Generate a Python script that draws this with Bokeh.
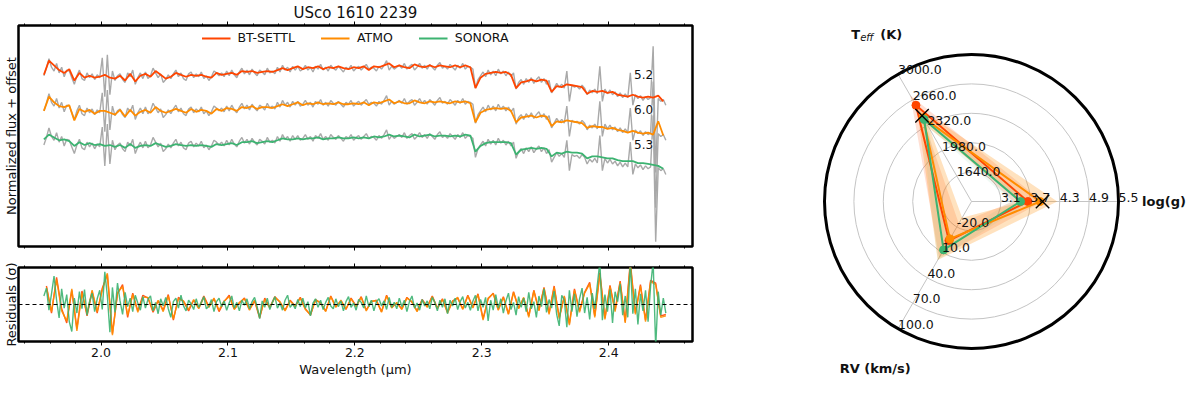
import numpy as np
from bokeh.plotting import figure
from bokeh.models import (Range1d, LinearAxis, SingleIntervalTicker, Span, Label,
                          Legend, LegendItem, CustomJSTickFormatter, NumeralTickFormatter)
from bokeh.layouts import row, column
from bokeh.core.properties import value
from bokeh.embed import file_html
from bokeh.resources import INLINE

FONT = "DejaVu Sans"

# ---------------- data ----------------
title = "USco 1610 2239"
model_names = ["BT-SETTL", "ATMO", "SONORA"]
model_colors = ["#ff4500", "#ff8c00", "#3cb371"]
offsets = [0.0, -0.37, -0.73]
reduced_chi2 = [5.2, 6.0, 5.3]

model_wave_start, model_wave_step, n_model = 1.955, 0.004, 123
data_wave_start, data_wave_step, n_data = 1.955, 0.002, 246
resid_coarse_start, resid_coarse_step, n_resid_coarse = 1.957, 0.004, 123

bt_settl = [0.98, 1.13, 1.08, 1.03, 1.00, 1.04, 0.92, 1.00, 0.95, 0.97,
            0.95, 0.96, 0.98, 0.95, 0.94, 0.97, 0.92, 0.99, 0.91, 0.97,
            0.99, 0.96, 1.02, 0.98, 0.94, 0.96, 1.00, 0.98, 0.96, 0.98,
            0.97, 0.98, 0.96, 0.95, 1.00, 0.98, 0.99, 1.00, 0.98, 1.02,
            1.01, 1.02, 1.00, 1.01, 1.02, 1.01, 1.03, 1.05, 1.03, 1.05,
            1.07, 1.04, 1.06, 1.05, 1.07, 1.04, 1.06, 1.05, 1.07, 1.05,
            1.04, 1.06, 1.05, 1.07, 1.03, 1.07, 1.06, 1.08, 1.10, 1.06,
            1.08, 1.06, 1.05, 1.09, 1.07, 1.06, 1.08, 1.06, 1.08, 1.07,
            1.06, 1.08, 1.06, 1.08, 1.06, 0.84, 0.95, 0.99, 1.00, 1.01,
            1.00, 1.01, 0.98, 0.84, 0.90, 0.91, 0.93, 0.91, 0.93, 0.92,
            0.80, 0.86, 0.85, 0.88, 0.87, 0.86, 0.85, 0.78, 0.81, 0.80,
            0.81, 0.79, 0.80, 0.77, 0.76, 0.75, 0.77, 0.75, 0.74, 0.75,
            0.74, 0.76, 0.70]
atmo = [0.97, 1.12, 1.06, 1.02, 1.01, 1.03, 0.87, 0.99, 0.96, 0.98,
        0.94, 0.97, 0.97, 0.95, 0.93, 0.98, 0.91, 0.98, 0.92, 0.96,
        0.98, 0.95, 1.01, 0.97, 0.95, 0.97, 0.99, 0.97, 0.95, 0.99,
        0.96, 0.98, 0.97, 0.94, 0.99, 0.97, 1.00, 0.99, 0.97, 1.01,
        1.00, 1.02, 0.99, 1.01, 1.01, 1.00, 1.02, 1.04, 1.02, 1.04,
        1.06, 1.03, 1.05, 1.04, 1.06, 1.04, 1.05, 1.04, 1.06, 1.04,
        1.04, 1.05, 1.04, 1.06, 1.03, 1.06, 1.05, 1.07, 1.09, 1.05,
        1.07, 1.05, 1.05, 1.08, 1.06, 1.05, 1.07, 1.06, 1.07, 1.06,
        1.05, 1.07, 1.06, 1.07, 1.05, 0.85, 0.95, 0.98, 0.99, 1.00,
        0.99, 1.00, 0.97, 0.85, 0.90, 0.91, 0.92, 0.90, 0.92, 0.91,
        0.81, 0.86, 0.85, 0.87, 0.86, 0.85, 0.84, 0.79, 0.81, 0.80,
        0.80, 0.78, 0.79, 0.77, 0.76, 0.74, 0.76, 0.74, 0.73, 0.74,
        0.72, 0.86, 0.71]
sonora = [1.03, 1.08, 1.05, 1.02, 1.03, 1.01, 0.96, 1.00, 0.97, 0.99,
          0.97, 0.98, 0.96, 0.97, 0.95, 0.97, 0.94, 0.98, 0.94, 0.96,
          0.97, 0.96, 0.99, 0.97, 0.95, 0.96, 0.98, 0.97, 0.96, 0.97,
          0.96, 0.97, 0.96, 0.95, 0.98, 0.97, 0.98, 0.99, 0.97, 1.00,
          1.00, 1.01, 0.99, 1.00, 1.01, 1.00, 1.02, 1.04, 1.03, 1.03,
          1.04, 1.03, 1.04, 1.04, 1.05, 1.03, 1.04, 1.04, 1.05, 1.04,
          1.04, 1.05, 1.04, 1.05, 1.04, 1.06, 1.05, 1.06, 1.08, 1.06,
          1.07, 1.06, 1.05, 1.08, 1.06, 1.07, 1.08, 1.06, 1.07, 1.07,
          1.06, 1.07, 1.06, 1.08, 1.07, 0.90, 0.96, 0.99, 1.00, 1.00,
          1.00, 1.00, 0.99, 0.87, 0.92, 0.93, 0.94, 0.93, 0.94, 0.93,
          0.85, 0.89, 0.88, 0.90, 0.89, 0.89, 0.88, 0.83, 0.85, 0.85,
          0.84, 0.83, 0.83, 0.81, 0.80, 0.80, 0.80, 0.78, 0.78, 0.77,
          0.76, 0.75, 0.72]
observed = [0.97, 1.05, 1.15, 1.06, 1.02, 1.10, 1.00, 1.06, 0.96, 1.03,
            1.02, 0.95, 0.88, 0.97, 1.03, 0.94, 0.92, 1.00, 0.95, 0.99,
            0.93, 0.98, 0.95, 1.16, 0.75, 1.19, 0.77, 1.02, 0.92, 0.97,
            0.99, 0.93, 0.90, 1.00, 0.96, 1.03, 0.88, 0.95, 1.00, 0.94,
            1.01, 0.94, 0.97, 1.05, 1.00, 0.95, 0.99, 0.90, 0.93, 0.98,
            0.94, 0.99, 1.03, 0.96, 1.00, 0.94, 0.92, 0.99, 1.01, 0.95,
            0.99, 0.96, 1.01, 0.94, 0.97, 0.92, 0.96, 1.02, 1.00, 0.97,
            1.00, 0.96, 1.02, 0.97, 1.03, 0.98, 0.95, 1.01, 1.05, 0.99,
            1.03, 0.98, 1.04, 1.00, 0.97, 1.03, 1.01, 0.98, 1.05, 1.00,
            1.02, 0.99, 1.06, 1.01, 1.08, 1.03, 1.06, 1.01, 1.07, 1.03,
            1.07, 1.02, 1.04, 1.08, 1.03, 1.06, 1.01, 1.07, 1.04, 1.09,
            1.03, 1.06, 1.02, 1.08, 1.05, 1.03, 1.07, 1.04, 1.01, 1.06,
            1.04, 1.08, 1.02, 1.05, 1.07, 1.03, 1.06, 1.09, 1.04, 1.06,
            1.05, 1.02, 1.07, 1.04, 1.08, 1.13, 1.03, 1.07, 1.04, 1.06,
            1.08, 1.05, 1.10, 1.04, 1.07, 1.09, 1.03, 1.06, 1.10, 1.05,
            1.08, 1.04, 1.09, 1.06, 1.03, 1.08, 1.11, 1.05, 1.07, 1.04,
            1.09, 1.06, 1.03, 1.08, 1.05, 1.10, 1.04, 1.07, 1.06, 1.04,
            0.84, 0.93, 0.97, 1.01, 0.96, 1.03, 0.98, 1.02, 0.97, 1.04,
            0.99, 1.02, 0.97, 1.01, 0.96, 1.00, 0.83, 0.90, 0.93, 0.88,
            0.94, 0.90, 0.95, 0.89, 0.93, 0.96, 0.90, 0.94, 0.88, 0.92,
            0.79, 0.84, 0.89, 0.85, 0.88, 0.84, 1.02, 0.70, 0.87, 0.85,
            0.86, 0.83, 0.87, 0.84, 0.77, 0.82, 0.79, 0.83, 0.78, 1.07,
            0.70, 0.83, 0.78, 0.82, 0.77, 0.80, 0.75, 0.79, 0.74, 0.78,
            0.74, 1.00, 0.66, 0.77, 0.73, 0.76, 0.71, 0.75, 0.72, 0.74,
            1.28, -0.05, 0.73, 0.70, 0.72, 0.66]

# residuals in sigma; BT-SETTL and ATMO on the coarse grid, SONORA on the data grid
resid_bt_settl = [2.6, -1.2, 3.8, -0.6, -2.6, 2.0, -3.4, 1.9, -1.6, 1.8,
                  -1.2, 2.3, 4.2, -4.1, 1.5, 2.8, -1.8, 1.6, -0.9, 1.3,
                  0.9, -1.1, 0.5, -0.8, 1.4, -2.2, 1.0, 0.4, -0.9, 0.6,
                  -0.5, 1.2, -0.3, 0.8, -1.0, 0.4, 1.3, -0.6, 0.2, 0.9,
                  -0.7, 0.5, -1.9, 0.9, -0.4, 1.1, 0.3, -0.8, 0.6, -0.2,
                  1.0, -0.6, -1.5, 0.7, 0.2, -0.9, 1.2, -0.3, 0.5, -0.7,
                  0.9, -0.2, 1.1, -0.8, 0.4, 0.6, -1.0, 1.3, -0.4, 0.2,
                  -0.6, 1.0, 0.3, -0.9, 0.7, -0.3, 1.2, -0.5, 0.8, -1.1,
                  0.5, 0.9, -0.6, 1.3, -0.4, 1.5, -2.0, 0.8, 1.6, -0.7,
                  1.1, -1.3, 1.8, -0.5, 0.9, -1.6, 2.0, -0.8, 2.4, -1.2,
                  2.6, -1.8, 1.1, -2.7, 2.2, -0.9, 1.7, 3.1, -1.6, 4.5,
                  -1.9, 2.7, -0.8, 3.3, -2.4, 6.0, -1.2, 2.8, -2.2, 3.4,
                  3.0, -1.6, -1.4]
resid_atmo = [2.4, -1.0, 3.5, -0.9, -2.3, 2.2, -3.7, 1.6, -1.3, 2.0,
              -1.0, 2.0, 4.4, -4.3, 1.7, 2.5, -1.5, 1.4, -1.1, 1.0,
              1.0, -0.9, 0.6, -1.0, 1.2, -2.0, 0.8, 0.5, -0.7, 0.7,
              -0.6, 1.0, -0.4, 0.9, -0.8, 0.5, 1.1, -0.7, 0.3, 0.8,
              -0.8, 0.6, -1.7, 0.7, -0.5, 1.0, 0.4, -0.9, 0.5, -0.3,
              0.9, -0.7, -1.4, 0.6, 0.3, -1.0, 1.1, -0.4, 0.6, -0.6,
              0.8, -0.3, 1.0, -0.9, 0.5, 0.5, -1.1, 1.2, -0.5, 0.3,
              -0.7, 0.9, 0.4, -1.0, 0.6, -0.4, 1.1, -0.6, 0.7, -1.2,
              0.4, 1.0, -0.7, 1.2, -0.5, 1.4, -2.2, 0.9, 1.5, -0.8,
              1.0, -1.4, 1.7, -0.6, 1.0, -1.8, 1.9, -0.9, 2.3, -1.4,
              2.4, -2.0, 1.2, -2.9, 2.0, -1.1, 1.6, 2.9, -1.8, 4.2,
              -2.1, 2.5, -1.0, 3.1, -2.6, 5.6, -1.4, 2.6, -2.4, 3.2,
              2.8, -1.8, -1.6]
resid_sonora = [1.2, 2.3, -0.8, 1.5, 4.0, 0.6, -1.9, 2.2, -0.5, 1.4,
                -2.4, -3.8, 0.9, -1.2, 1.8, -0.6, 2.1, -1.5, 0.4, 1.6,
                -1.0, 0.8, 2.0, -0.7, 4.6, 1.2, -3.9, 2.4, -1.1, 3.0,
                0.5, -1.4, 1.7, -0.3, 0.9, -1.0, 1.3, 0.2, -0.8, 1.1,
                -0.5, 0.7, 1.2, -0.9, 0.3, -1.3, 0.8, -0.2, 1.0, -0.6,
                -1.8, 0.4, 0.9, -0.5, 1.3, -0.2, -0.9, 0.6, 0.1, -0.7,
                0.8, -0.4, 0.3, 1.1, -0.6, -0.2, 0.7, -1.0, 0.4, 0.9,
                -0.3, 0.5, -0.8, 0.2, 1.2, -0.5, 0.3, -0.9, 0.6, -0.1,
                0.8, -0.6, 0.4, 1.0, -0.3, -2.0, 0.5, -0.4, 0.9, -0.7,
                0.3, 1.1, -0.5, 0.2, -0.8, 0.6, 1.3, -0.4, 0.1, -0.6,
                0.7, -0.3, 0.9, -0.5, 0.4, -1.6, 0.2, 0.8, -0.4, 0.6,
                -0.7, 0.3, 1.0, -0.2, -0.6, 0.8, -0.3, 0.5, -0.9, 0.4,
                1.1, -0.4, 0.2, -0.8, 0.7, 0.3, -0.5, 1.2, -0.3, 0.6,
                -0.9, 0.4, 0.8, -0.2, 0.5, -0.7, 1.0, -0.4, 0.3, -0.6,
                0.9, -0.3, 0.6, -1.0, 0.4, 1.2, -0.5, 0.2, -0.8, 0.7,
                -0.2, 0.5, -0.6, 1.0, 0.3, -0.9, 0.6, -0.4, 0.8, -1.3,
                0.6, -0.2, 0.9, -0.7, 0.4, 1.1, -0.5, 0.3, -0.8, 0.5,
                1.3, -0.9, 0.7, -0.4, 1.0, -2.3, 0.6, -0.8, 1.4, -0.5,
                0.8, -1.2, 0.5, 1.6, -0.7, 0.3, -1.5, 1.1, -0.4, 0.9,
                -1.0, 1.7, -0.6, 0.4, -1.8, 1.2, -0.3, 2.2, -1.1, 0.7,
                -0.5, 1.9, -1.4, -3.0, 1.3, 0.6, -3.2, 2.0, -1.0, 1.5,
                -1.7, 0.8, 2.3, -1.2, 1.0, -2.1, 1.6, -0.6, 2.7, 6.0,
                -2.2, 1.4, -1.0, 2.1, -2.6, 1.8, 0.4, 2.9, -1.5, 1.2,
                -1.8, 6.0, -1.3, 2.2, -2.8, 1.5, -0.9, 2.0, -2.4, 2.6,
                6.0, -6.0, 1.8, -1.5, 0.9, -1.2]

x_ticks_interval = 0.1

# radar chart values
teff_ticks = [1640.0, 1980.0, 2320.0, 2660.0, 3000.0]
logg_ticks = [3.1, 3.7, 4.3, 4.9, 5.5]
rv_ticks = [-20.0, 10.0, 40.0, 70.0, 100.0]
radar_best = {"BT-SETTL": [2585.0, 3.65, -4.0],
              "ATMO": [2420.0, 3.90, -6.0],
              "SONORA": [2395.0, 3.50, 7.0]}
radar_err = {"BT-SETTL": [130.0, 0.30, 20.0],
             "ATMO": [150.0, 0.35, 25.0],
             "SONORA": [90.0, 0.20, 12.0]}
literature_teff = 2444.0
literature_logg = 3.95

# ---------------- helpers ----------------
wave_model = np.round(model_wave_start + model_wave_step * np.arange(n_model), 4)
wave_data = np.round(data_wave_start + data_wave_step * np.arange(n_data), 4)
wave_resid = np.round(resid_coarse_start + resid_coarse_step * np.arange(n_resid_coarse), 4)
empty_fmt = CustomJSTickFormatter(code="return ''")


def style_xaxis(ax, labels):
    ax.ticker = SingleIntervalTicker(interval=x_ticks_interval, num_minor_ticks=5)
    ax.major_tick_out = 4
    ax.major_tick_in = 0
    ax.minor_tick_out = 2
    ax.minor_tick_in = 0
    ax.major_tick_line_color = "black"
    ax.minor_tick_line_color = "black"
    ax.axis_line_color = None
    if labels:
        ax.formatter = NumeralTickFormatter(format="0.0")
        ax.major_label_text_font = FONT
        ax.major_label_text_font_size = "12.5px"
        ax.major_label_text_color = "#111111"
        ax.major_label_standoff = 2
    else:
        ax.formatter = empty_fmt
        ax.major_label_text_font_size = "0px"
        ax.major_label_standoff = 0


def style_yaxis(ax, label):
    ax.formatter = empty_fmt
    ax.major_label_text_font_size = "0px"
    ax.major_label_standoff = 0
    ax.major_tick_out = 0
    ax.major_tick_in = 0
    ax.minor_tick_out = 0
    ax.minor_tick_in = 0
    ax.axis_line_color = None
    ax.axis_label = label
    ax.axis_label_text_font = FONT
    ax.axis_label_text_font_size = "13px"
    ax.axis_label_text_font_style = "normal"
    ax.axis_label_text_color = "#111111"
    ax.axis_label_standoff = 0


xr = Range1d(1.935, 2.466)

# ---------------- top panel ----------------
p1 = figure(frame_width=674, frame_height=221, x_range=xr, y_range=Range1d(-0.83, 1.50),
            output_backend="svg", toolbar_location=None,
            min_border_left=15, min_border_right=11, min_border_top=18, min_border_bottom=9)
p1.grid.visible = False
p1.outline_line_color = "black"
p1.outline_line_width = 2.5
style_xaxis(p1.xaxis[0], False)
top_ax = LinearAxis()
style_xaxis(top_ax, False)
top_ax.axis_label = title
top_ax.axis_label_text_font = FONT
top_ax.axis_label_text_font_size = "15px"
top_ax.axis_label_text_font_style = "normal"
top_ax.axis_label_text_color = "#111111"
top_ax.axis_label_standoff = 0
p1.add_layout(top_ax, "above")
style_yaxis(p1.yaxis[0], "Normalized flux + offset")

obs = np.array(observed)
for off in offsets:
    p1.line(wave_data, obs + off, line_color="#a9a9a9", line_width=1.4)

models = [np.array(bt_settl), np.array(atmo), np.array(sonora)]
items = []
for name, col, mod, off in zip(model_names, model_colors, models, offsets):
    r = p1.line(wave_model, mod + off, line_color=col, line_width=1.8)
    items.append(LegendItem(label=name, renderers=[r]))

leg = Legend(items=items, location="top_center", orientation="horizontal",
             border_line_color=None, background_fill_alpha=0,
             label_text_font=FONT, label_text_font_size="12.5px", label_text_color="#111111",
             glyph_width=29, glyph_height=12, label_standoff=7, spacing=26,
             margin=5, padding=4)
p1.add_layout(leg)

for c, off in zip(reduced_chi2, offsets):
    p1.add_layout(Label(x=2.4275, y=0.98 + off, text=f"{c:.1f}", text_align="center",
                        text_baseline="middle", text_font=FONT, text_font_size="12px",
                        text_color="#111111", background_fill_color="white",
                        background_fill_alpha=0.6))

# ---------------- residual panel ----------------
p2 = figure(frame_width=674, frame_height=74, x_range=xr, y_range=Range1d(-5.2, 5.2),
            output_backend="svg", toolbar_location=None,
            min_border_left=15, min_border_right=11, min_border_top=12, min_border_bottom=37)
p2.grid.visible = False
p2.outline_line_color = "black"
p2.outline_line_width = 2.5
style_xaxis(p2.xaxis[0], True)
p2.xaxis[0].axis_label = "Wavelength (μm)"
p2.xaxis[0].axis_label_text_font = FONT
p2.xaxis[0].axis_label_text_font_size = "13px"
p2.xaxis[0].axis_label_text_font_style = "normal"
p2.xaxis[0].axis_label_text_color = "#111111"
p2.xaxis[0].axis_label_standoff = 2
top_ax2 = LinearAxis()
style_xaxis(top_ax2, False)
p2.add_layout(top_ax2, "above")
style_yaxis(p2.yaxis[0], "Residuals (σ)")

p2.line(wave_resid, resid_bt_settl, line_color=model_colors[0], line_width=1.4, line_alpha=0.9)
p2.line(wave_resid, resid_atmo, line_color=model_colors[1], line_width=1.4, line_alpha=0.9)
p2.line(wave_data, resid_sonora, line_color=model_colors[2], line_width=1.4, line_alpha=0.9)
p2.add_layout(Span(location=0, dimension="width", line_color="black",
                   line_dash="4 3", line_width=1.2))

# ---------------- radar ----------------
R = 147.0
ang = np.deg2rad([120.0, 0.0, 240.0])
tick_sets = [teff_ticks, logg_ticks, rv_ticks]


def frac(v, t):
    lo = t[0] - (t[1] - t[0])
    return (v - lo) / (t[-1] - lo)


def to_xy(vals):
    fr = np.array([frac(v, t) for v, t in zip(vals, tick_sets)])
    return R * fr * np.cos(ang), R * fr * np.sin(ang)


rp = figure(frame_width=484, frame_height=376, x_range=Range1d(-268, 216),
            y_range=Range1d(-175, 201), output_backend="svg", toolbar_location=None,
            min_border=0, x_axis_location=None, y_axis_location=None)
rp.grid.visible = False
rp.outline_line_color = None

ring_r = [R * frac(t, teff_ticks) for t in teff_ticks[:-1]]
rp.circle(x=[0] * len(ring_r), y=[0] * len(ring_r), radius=ring_r, fill_color=None,
          line_color="#c4c4c4", line_width=1)
rp.segment(x0=[0, 0, 0], y0=[0, 0, 0], x1=list(R * np.cos(ang)), y1=list(R * np.sin(ang)),
           line_color="#c4c4c4", line_width=1)

band_alpha = {"BT-SETTL": 0.17, "ATMO": 0.25, "SONORA": 0.08}
for name, col in zip(model_names, model_colors):
    v = radar_best[name]
    e = radar_err[name]
    ox, oy = to_xy([a + b for a, b in zip(v, e)])
    ix, iy = to_xy([a - b for a, b in zip(v, e)])
    rp.multi_polygons(xs=[[[list(ox), list(ix)]]], ys=[[[list(oy), list(iy)]]],
                      fill_color=col, fill_alpha=band_alpha[name], line_color=None)

for name, col in zip(model_names, model_colors):
    x, y = to_xy(radar_best[name])
    rp.line(list(x) + [x[0]], list(y) + [y[0]], line_color=col, line_width=2)
    rp.scatter(list(x), list(y), size=8, fill_color=col, line_color=col)

lx = [R * frac(literature_teff, teff_ticks) * np.cos(ang[0]),
      R * frac(literature_logg, logg_ticks) * np.cos(ang[1])]
ly = [R * frac(literature_teff, teff_ticks) * np.sin(ang[0]),
      R * frac(literature_logg, logg_ticks) * np.sin(ang[1])]
rp.scatter(lx, ly, marker="x", size=19, line_color="black", line_width=1.4)

rp.circle(x=[0], y=[0], radius=[R], fill_color=None, line_color="black", line_width=3)

tx, ty, tt = [], [], []
for a, ts in zip(ang, tick_sets):
    for t in ts:
        rr = R * frac(t, ts)
        tx.append(rr * np.cos(a))
        ty.append(rr * np.sin(a))
        tt.append(f"{t:.1f}")
rp.text(x=tx, y=ty, text=tt, text_align="left", text_baseline="bottom",
        text_font=value(FONT), text_font_size="12.5px", text_color="#111111")

lab_r = 1.31 * R
ax_x = list(lab_r * np.cos(ang))
ax_y = list(lab_r * np.sin(ang))
rp.text(x=[ax_x[0]], y=[ax_y[0]], text=["T"], x_offset=-15, text_align="right",
        text_baseline="middle", text_font=value(FONT), text_font_size="13px",
        text_font_style="bold", text_color="#111111")
rp.text(x=[ax_x[0]], y=[ax_y[0]], text=["eff"], x_offset=-15, y_offset=3, text_align="left",
        text_baseline="middle", text_font=value(FONT), text_font_size="10px",
        text_font_style="italic", text_color="#111111")
rp.text(x=[ax_x[0]], y=[ax_y[0]], text=["(K)"], x_offset=5, text_align="left",
        text_baseline="middle", text_font=value(FONT), text_font_size="13px",
        text_font_style="bold", text_color="#111111")
rp.text(x=[1.16 * R], y=[0], text=["log(g)"], text_align="left",
        text_baseline="middle", text_font=value(FONT), text_font_size="13px",
        text_font_style="bold", text_color="#111111")
rp.text(x=[ax_x[2]], y=[ax_y[2]], text=["RV (km/s)"], text_align="center",
        text_baseline="middle", text_font=value(FONT), text_font_size="13px",
        text_font_style="bold", text_color="#111111")

layout = row(column(p1, p2), rp)
open("out.html", "w").write(file_html(layout, INLINE))
